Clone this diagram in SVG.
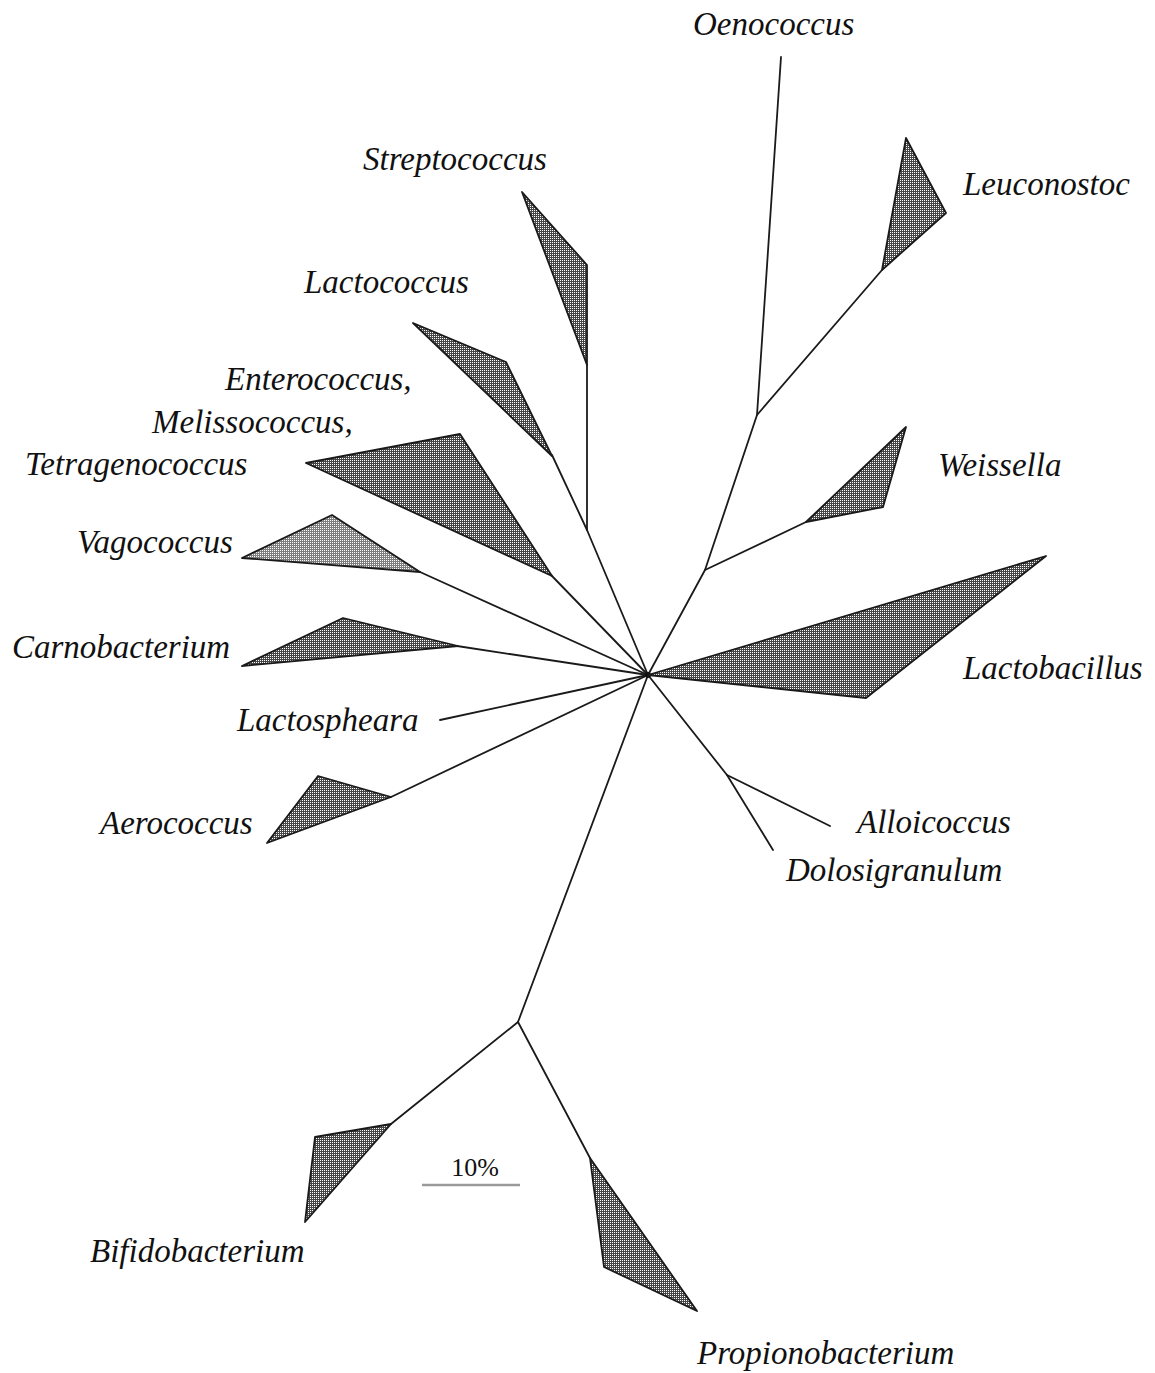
<svg xmlns="http://www.w3.org/2000/svg" width="1155" height="1373" viewBox="0 0 1155 1373">
<defs>
<pattern id="dith" width="2" height="2" patternUnits="userSpaceOnUse">
<rect width="2" height="2" fill="#464646"/>
<rect width="1" height="1" fill="#ffffff"/>
</pattern>
<pattern id="dithLight" width="2" height="2" patternUnits="userSpaceOnUse">
<rect width="2" height="2" fill="#7e7e7e"/>
<rect width="1" height="1" fill="#ffffff"/>
</pattern>
</defs>
<style>
.br{fill:none;stroke:#1a1a1a;stroke-width:1.8;stroke-linecap:round;stroke-linejoin:round}
.cl{fill:url(#dith);stroke:#1a1a1a;stroke-width:1.8;stroke-linejoin:round}
.cll{fill:url(#dithLight);stroke:#1a1a1a;stroke-width:1.8;stroke-linejoin:round}
.lb{font-family:"Liberation Serif","Times New Roman",serif;font-style:italic;font-size:33px;fill:#111}
.sc{font-family:"Liberation Serif","Times New Roman",serif;font-size:26px;fill:#111}
</style>
<rect width="1155" height="1373" fill="#ffffff"/>
<g id="connectors">
<polyline class="br" points="648,675 705,570 757,415 781,57"/>
<line class="br" x1="757" y1="415" x2="882" y2="270"/>
<line class="br" x1="705" y1="570" x2="806" y2="522"/>
<polyline class="br" points="648,675 727,775 773,850"/>
<line class="br" x1="727" y1="775" x2="830" y2="826"/>
<polyline class="br" points="648,675 587,530 552,455"/>
<line class="br" x1="587" y1="530" x2="587" y2="365"/>
<line class="br" x1="648" y1="675" x2="551" y2="575"/>
<line class="br" x1="648" y1="675" x2="420" y2="572"/>
<line class="br" x1="648" y1="675" x2="457" y2="646"/>
<line class="br" x1="648" y1="675" x2="440" y2="720"/>
<line class="br" x1="648" y1="675" x2="391" y2="797"/>
<line class="br" x1="648" y1="675" x2="518" y2="1022"/>
<line class="br" x1="518" y1="1022" x2="391" y2="1124"/>
<line class="br" x1="518" y1="1022" x2="590" y2="1158"/>
<circle cx="648" cy="675" r="3" fill="#111"/>
</g>
<g id="oenococcus"><text class="lb" x="693" y="35">Oenococcus</text></g>
<g id="leuconostoc"><polygon class="cl" points="882,270 906,138 946,213"/><text class="lb" x="963" y="195">Leuconostoc</text></g>
<g id="weissella"><polygon class="cl" points="806,522 906,427 883,507"/><text class="lb" x="938" y="476">Weissella</text></g>
<g id="lactobacillus"><polygon class="cl" points="648,675 1046,556 866,698"/><text class="lb" x="963" y="679">Lactobacillus</text></g>
<g id="alloicoccus"><text class="lb" x="857" y="833">Alloicoccus</text></g>
<g id="dolosigranulum"><text class="lb" x="786" y="881">Dolosigranulum</text></g>
<g id="streptococcus"><polygon class="cl" points="587,365 587,265 522,192"/><text class="lb" x="363" y="170">Streptococcus</text></g>
<g id="lactococcus"><polygon class="cl" points="552,456 506,362 413,323"/><text class="lb" x="304" y="293">Lactococcus</text></g>
<g id="enterococcus"><polygon class="cl" points="552,576 460,434 306,463"/><text class="lb" x="225" y="390">Enterococcus,</text><text class="lb" x="152" y="433">Melissococcus,</text><text class="lb" x="25" y="475">Tetragenococcus</text></g>
<g id="vagococcus"><polygon class="cll" points="420,572 332,515 242,558"/><text class="lb" x="77" y="553">Vagococcus</text></g>
<g id="carnobacterium"><polygon class="cl" points="458,646 343,618 242,666"/><text class="lb" x="12" y="658">Carnobacterium</text></g>
<g id="lactospheara"><text class="lb" x="237" y="731">Lactospheara</text></g>
<g id="aerococcus"><polygon class="cl" points="391,797 318,776 267,843"/><text class="lb" x="100" y="834">Aerococcus</text></g>
<g id="bifidobacterium"><polygon class="cl" points="391,1124 315,1137 305,1222"/><text class="lb" x="90" y="1262">Bifidobacterium</text></g>
<g id="propionobacterium"><polygon class="cl" points="590,1158 604,1267 697,1311"/><text class="lb" x="697" y="1364">Propionobacterium</text></g>
<g id="scale"><line x1="422" y1="1185" x2="520" y2="1185" stroke="#9a9a9a" stroke-width="2.5"/><text class="sc" x="475" y="1176" text-anchor="middle">10%</text></g>
</svg>
